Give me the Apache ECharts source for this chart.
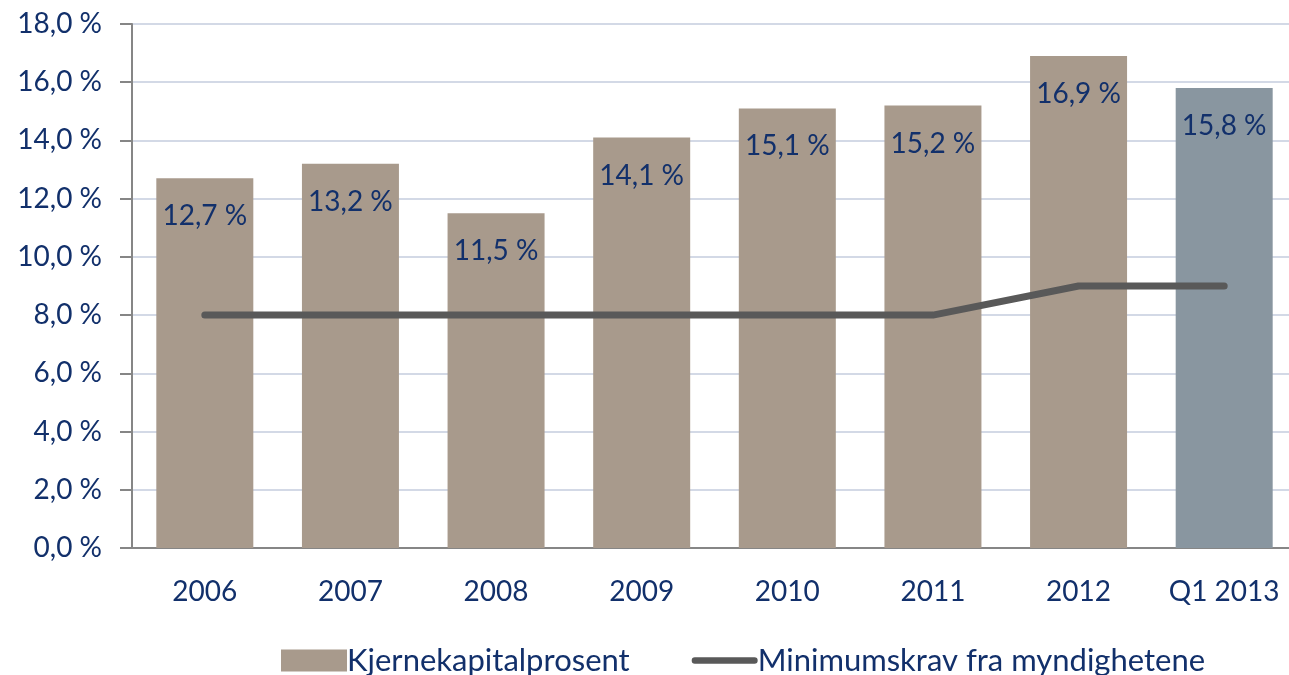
<!DOCTYPE html>
<html>
<head>
<meta charset="utf-8">
<script src="https://cdn.jsdelivr.net/npm/echarts@6/dist/echarts.min.js"></script>
<style>
  html, body { margin: 0; padding: 0; background: #fff; overflow: hidden; }
  #chart { width: 1300px; height: 675px; }
</style>
</head>
<body>
<div id="chart"></div>
<script>
var categories = ['2006', '2007', '2008', '2009', '2010', '2011', '2012', 'Q1 2013'];
var kjernekapital = [12.7, 13.2, 11.5, 14.1, 15.1, 15.2, 16.9, 15.8];
var minimumskrav = [8, 8, 8, 8, 8, 8, 9, 9];
var seriesNames = ['Kjernekapitalprosent', 'Minimumskrav fra myndighetene'];

var textColor = '#12306b';
var fontFamily = 'Lato, "Open Sans", sans-serif';

function pct(v) {
  return v.toFixed(1).replace('.', ',') + ' %';
}

var chart = echarts.init(document.getElementById('chart'));

var barData = kjernekapital.map(function (v, i) {
  return i === kjernekapital.length - 1
    ? { value: v, itemStyle: { color: '#8996a0' } }
    : v;
});

var option = {
  animation: false,
  textStyle: { fontFamily: fontFamily },
  // plot runs a little past the right edge of the picture, like the original
  grid: { left: 132, top: 24, right: 3, bottom: 127 },
  legend: {
    bottom: -6,
    left: 276,
    itemWidth: 66,
    itemHeight: 22,
    itemGap: 62,
    textStyle: { fontSize: 31, color: textColor, fontFamily: fontFamily, padding: [0, 0, 0, -5] },
    data: [
      { name: seriesNames[0], icon: 'rect' },
      { name: seriesNames[1], icon: 'path://M3.5,0 L68.5,0 A3.5,3.5 0 0 1 68.5,7 L3.5,7 A3.5,3.5 0 0 1 3.5,0 Z' }
    ]
  },
  xAxis: {
    type: 'category',
    data: categories,
    axisLine: { lineStyle: { color: '#868686', width: 2 } },
    axisTick: { length: 10, lineStyle: { color: '#868686', width: 2 } },
    axisLabel: { fontSize: 28, color: textColor, margin: 30 }
  },
  yAxis: {
    type: 'value',
    min: 0,
    max: 18,
    interval: 2,
    axisLine: { show: true, lineStyle: { color: '#868686', width: 2 } },
    axisTick: { show: true, length: 12, lineStyle: { color: '#868686', width: 2 } },
    axisLabel: { fontSize: 28, color: textColor, margin: 30, formatter: pct },
    splitLine: { lineStyle: { color: '#d3d9e6', width: 2 } }
  },
  series: [
    {
      name: seriesNames[0],
      type: 'bar',
      data: barData,
      barWidth: 97,
      itemStyle: { color: '#a89a8c' },
      label: {
        show: true,
        position: 'insideTop',
        distance: 24,
        fontSize: 28,
        color: textColor,
        formatter: function (p) { return pct(p.value); }
      }
    },
    {
      name: seriesNames[1],
      type: 'line',
      data: minimumskrav,
      symbol: 'none',
      itemStyle: { color: '#595959' },
      lineStyle: { color: '#595959', width: 7, cap: 'round' }
    }
  ]
};

chart.setOption(option);
</script>
</body>
</html>
